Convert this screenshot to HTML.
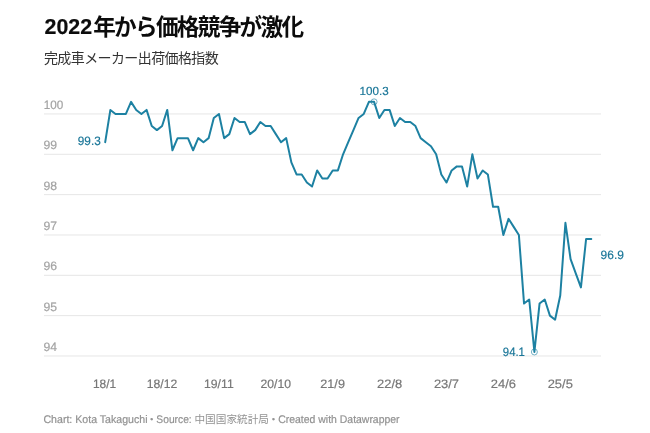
<!DOCTYPE html>
<html lang="ja"><head><meta charset="utf-8"><title>chart</title>
<style>
html,body{margin:0;padding:0;background:#fff}
body{width:650px;height:433px;position:relative;overflow:hidden;font-family:"Liberation Sans",sans-serif}
.t{position:absolute;left:0;top:0;white-space:nowrap;line-height:1;margin:0;transform-origin:0 0;will-change:opacity;text-rendering:geometricPrecision;-webkit-text-stroke:.2px}
.cj{position:absolute;left:0;top:0;overflow:visible}
#plot{position:absolute;left:0;top:0}
</style></head><body>

<svg id="plot" width="650" height="433" viewBox="0 0 650 433">
<rect x="44" y="355.49" width="557" height="1" fill="#e6e6e6"/>
<rect x="44" y="315.15" width="557" height="1" fill="#e6e6e6"/>
<rect x="44" y="274.81" width="557" height="1" fill="#e6e6e6"/>
<rect x="44" y="234.47" width="557" height="1" fill="#e6e6e6"/>
<rect x="44" y="194.13" width="557" height="1" fill="#e6e6e6"/>
<rect x="44" y="153.79" width="557" height="1" fill="#e6e6e6"/>
<rect x="44" y="113.45" width="557" height="1" fill="#e6e6e6"/>
<circle cx="374.09" cy="101.85" r="3" fill="#fff" stroke="#1d81a2" stroke-opacity="0.6" stroke-width="1"/>
<circle cx="534.39" cy="351.96" r="3" fill="#fff" stroke="#1d81a2" stroke-opacity="0.6" stroke-width="1"/>
<polyline fill="none" stroke="#1d81a2" stroke-width="2" stroke-linejoin="round" stroke-linecap="round" points="105.20,142.19 110.37,109.92 115.54,113.95 120.71,113.95 125.88,113.95 131.06,101.85 136.23,109.92 141.40,113.95 146.57,109.92 151.74,126.05 156.91,130.09 162.08,126.05 167.25,109.92 172.42,150.26 177.59,138.15 182.76,138.15 187.94,138.15 193.11,150.26 198.28,138.15 203.45,142.19 208.62,138.15 213.79,117.98 218.96,113.95 224.13,138.15 229.30,134.12 234.48,117.98 239.65,122.02 244.82,122.02 249.99,134.12 255.16,130.09 260.33,122.02 265.50,126.05 270.67,126.05 275.84,134.12 281.01,142.19 286.19,138.15 291.36,162.36 296.53,174.46 301.70,174.46 306.87,182.53 312.04,186.56 317.21,170.43 322.38,178.49 327.55,178.49 332.72,170.43 337.90,170.43 343.07,154.29 348.24,142.19 353.41,130.09 358.58,117.98 363.75,113.95 368.92,101.85 374.09,101.85 379.26,117.98 384.43,109.92 389.61,109.92 394.78,126.05 399.95,117.98 405.12,122.02 410.29,122.02 415.46,126.05 420.63,138.15 425.80,142.19 430.97,146.22 436.14,154.29 441.31,174.46 446.49,182.53 451.66,170.43 456.83,166.39 462.00,166.39 467.17,186.56 472.34,154.29 477.51,178.49 482.68,170.43 487.85,174.46 493.03,206.73 498.20,206.73 503.37,234.97 508.54,218.83 513.71,226.90 518.88,234.97 524.05,303.55 529.22,299.51 534.39,351.96 539.56,303.55 544.74,299.51 549.91,315.65 555.08,319.68 560.25,295.48 565.42,222.87 570.59,259.17 575.76,273.29 580.93,287.41 586.10,239.00 591.27,239.00"/>
</svg>
<div class="t" style="font-size:21.5px;color:#0c0c0c;font-weight:700;transform:translate(44.55px,17px) scaleX(0.9950);">2022</div>
<svg class="cj" role="img" aria-label="年から価格競争が激化" width="650" height="433" viewBox="0 0 650 433"><text x="93.2" y="34.96" font-size="22.6" font-weight="700" fill="#0c0c0c" textLength="210.8" lengthAdjust="spacing" font-family="&quot;Liberation Sans&quot;, &quot;Noto Sans CJK JP&quot;, sans-serif">年から価格競争が激化</text></svg>
<svg class="cj" role="img" aria-label="完成車メーカー出荷価格指数" width="650" height="433" viewBox="0 0 650 433"><text x="43.95" y="62.9" font-size="14" fill="#333" textLength="174.8" lengthAdjust="spacing" font-family="&quot;Liberation Sans&quot;, &quot;Noto Sans CJK JP&quot;, sans-serif">完成車メーカー出荷価格指数</text></svg>
<div class="t" style="font-size:12.2px;color:#a3a3a3;transform:translate(43.50px,341px);">94</div>
<div class="t" style="font-size:12.2px;color:#a3a3a3;transform:translate(43.50px,301px);">95</div>
<div class="t" style="font-size:12.2px;color:#a3a3a3;transform:translate(43.50px,260px);">96</div>
<div class="t" style="font-size:12.2px;color:#a3a3a3;transform:translate(43.50px,220px);">97</div>
<div class="t" style="font-size:12.2px;color:#a3a3a3;transform:translate(43.50px,180px);">98</div>
<div class="t" style="font-size:12.2px;color:#a3a3a3;transform:translate(43.50px,139px);">99</div>
<div class="t" style="font-size:12.2px;color:#a3a3a3;transform:translate(43.70px,99px) scaleX(0.9600);">100</div>
<div class="t" style="font-size:12.2px;color:#787878;transform:translate(104.60px,378px) scaleX(0.9800) translateX(-50%);">18/1</div>
<div class="t" style="font-size:12.2px;color:#787878;transform:translate(161.98px,378px) translateX(-50%);">18/12</div>
<div class="t" style="font-size:12.2px;color:#787878;transform:translate(218.86px,378px) translateX(-50%);">19/11</div>
<div class="t" style="font-size:12.2px;color:#787878;transform:translate(275.74px,378px) translateX(-50%);">20/10</div>
<div class="t" style="font-size:12.2px;color:#787878;transform:translate(332.62px,378px) scaleX(1.0370) translateX(-50%);">21/9</div>
<div class="t" style="font-size:12.2px;color:#787878;transform:translate(389.61px,378px) scaleX(1.0600) translateX(-50%);">22/8</div>
<div class="t" style="font-size:12.2px;color:#787878;transform:translate(446.49px,378px) scaleX(1.0600) translateX(-50%);">23/7</div>
<div class="t" style="font-size:12.2px;color:#787878;transform:translate(503.37px,378px) scaleX(1.0600) translateX(-50%);">24/6</div>
<div class="t" style="font-size:12.2px;color:#787878;transform:translate(560.25px,378px) scaleX(1.0600) translateX(-50%);">25/5</div>
<div class="t" style="font-size:12.2px;color:#1a7698;transform:translate(100.70px,135px) scaleX(0.9650) translateX(-100%);">99.3</div>
<div class="t" style="font-size:11.8px;color:#1a7698;transform:translate(374.14px,86px) scaleX(0.9850) translateX(-50%);">100.3</div>
<div class="t" style="font-size:12.2px;color:#1a7698;transform:translate(524.90px,346px) scaleX(0.9300) translateX(-100%);">94.1</div>
<div class="t" style="font-size:12.2px;color:#1a7698;transform:translate(600.60px,249px) scaleX(0.9800);">96.9</div>
<div class="t" style="font-size:11px;color:#929292;transform:translate(43.45px,415px) scaleX(0.9630);">Chart: Kota Takaguchi</div>
<div class="t" style="font-size:8.5px;color:#929292;transform:translate(151.85px,415px) translateX(-50%);">&bull;</div>
<div class="t" style="font-size:11px;color:#929292;transform:translate(156.35px,415px) scaleX(0.9330);">Source:</div>
<svg class="cj" role="img" aria-label="中国国家統計局" width="650" height="433" viewBox="0 0 650 433"><text x="194.43" y="422.6" font-size="10.66" fill="#929292" textLength="74.6" lengthAdjust="spacing" font-family="&quot;Liberation Sans&quot;, &quot;Noto Sans CJK JP&quot;, sans-serif">中国国家統計局</text></svg>
<div class="t" style="font-size:8.5px;color:#929292;transform:translate(273.45px,415px) translateX(-50%);">&bull;</div>
<div class="t" style="font-size:11px;color:#929292;transform:translate(278.20px,415px) scaleX(0.9500);">Created with Datawrapper</div>
</body></html>
